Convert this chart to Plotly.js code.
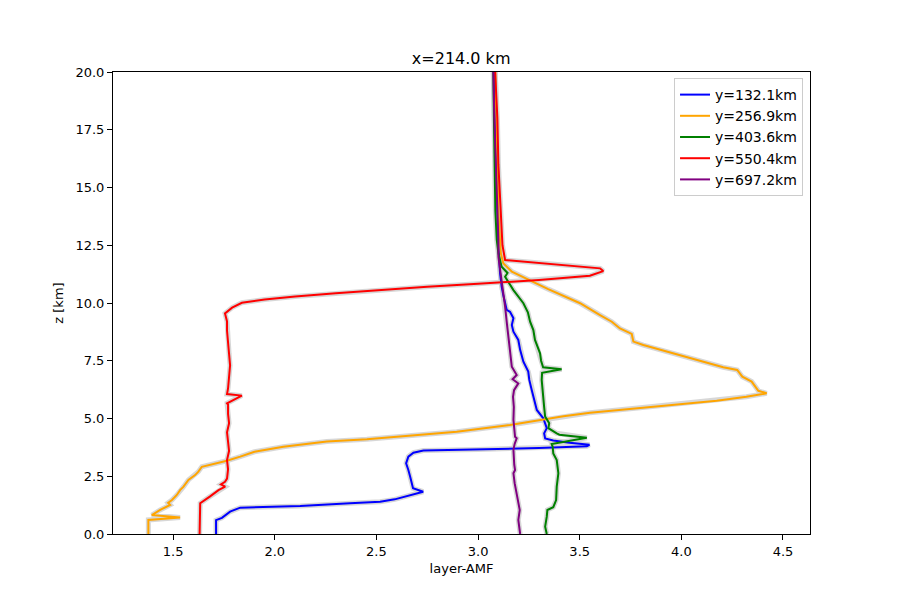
<!DOCTYPE html>
<html>
<head>
<meta charset="utf-8">
<script src="https://cdn.plot.ly/plotly-3.0.1.min.js"></script>
<style>html,body{margin:0;padding:0;background:#fff;}#chart{width:900px;height:600px;}</style>
</head>
<body>
<div id="chart"></div>
<script>
const seriesNames = ["y=132.1km", "y=256.9km", "y=403.6km", "y=550.4km", "y=697.2km"];
const seriesColors = ["#0000ff", "#ffa500", "#008000", "#ff0000", "#800080"];

const zBlue = [0, 0.6, 0.7, 0.97, 1.14, 1.21, 1.33, 1.4, 1.5, 1.59, 1.76, 1.83, 1.98, 2.2, 2.48, 2.77, 3.06, 3.35, 3.52, 3.61, 3.66, 3.72, 3.8, 3.86, 3.95, 4.05, 4.14, 4.36, 4.58, 5.01, 5.37, 5.73, 6.23, 6.67, 7.03, 7.46, 7.97, 8.4, 8.76, 9.05, 9.34, 9.62, 9.7, 10.35, 10.71, 11.3, 12.5, 14, 16, 18, 20];
const xBlue = [1.711, 1.711, 1.74, 1.78, 1.83, 2.125, 2.37, 2.518, 2.59, 2.63, 2.70, 2.73, 2.68, 2.675, 2.666, 2.657, 2.646, 2.657, 2.682, 2.731, 3.0, 3.3, 3.535, 3.548, 3.45, 3.37, 3.33, 3.325, 3.338, 3.321, 3.289, 3.28, 3.264, 3.252, 3.247, 3.223, 3.207, 3.198, 3.174, 3.166, 3.174, 3.157, 3.141, 3.124, 3.116, 3.108, 3.1, 3.095, 3.09, 3.085, 3.08];

const zOrange = [0, 0.61, 0.71, 0.82, 1.04, 1.26, 1.35, 1.47, 1.69, 1.9, 2.05, 2.34, 2.55, 2.7, 2.91, 3.06, 3.17, 3.35, 3.56, 3.78, 4.0, 4.1, 4.21, 4.43, 4.72, 4.96, 5.1, 5.25, 5.51, 5.77, 5.94, 6.09, 6.2, 6.41, 6.6, 6.81, 7.1, 7.22, 7.49, 7.89, 8.18, 8.33, 8.66, 8.9, 9.19, 9.48, 9.99, 10.6, 11.03, 11.36, 11.72, 12.15, 12.73, 14, 16, 18, 20];
const xOrange = [1.378, 1.378, 1.534, 1.395, 1.436, 1.485, 1.475, 1.494, 1.518, 1.534, 1.551, 1.575, 1.608, 1.624, 1.641, 1.715, 1.764, 1.83, 1.90, 2.042, 2.256, 2.453, 2.6, 2.895, 3.157, 3.321, 3.42, 3.551, 3.846, 4.174, 4.32, 4.42, 4.379, 4.362, 4.346, 4.30, 4.275, 4.206, 4.092, 3.928, 3.813, 3.764, 3.756, 3.698, 3.658, 3.6, 3.502, 3.345, 3.24, 3.166, 3.124, 3.112, 3.108, 3.1, 3.095, 3.09, 3.085];

const zGreen = [0, 0.32, 0.75, 1.04, 1.16, 1.47, 2.05, 2.63, 3.2, 3.49, 3.78, 3.9, 4.17, 4.3, 4.36, 4.58, 4.8, 5.08, 5.5, 5.94, 6.4, 6.67, 6.98, 7.13, 7.22, 7.5, 7.82, 8.4, 8.83, 9.19, 9.6, 9.99, 10.56, 11.14, 11.3, 11.57, 12.15, 12.73, 14, 16, 18, 20];
const xGreen = [3.338, 3.33, 3.338, 3.341, 3.37, 3.384, 3.387, 3.395, 3.387, 3.37, 3.367, 3.362, 3.535, 3.40, 3.387, 3.346, 3.35, 3.33, 3.325, 3.321, 3.315, 3.313, 3.315, 3.411, 3.32, 3.31, 3.305, 3.28, 3.272, 3.256, 3.245, 3.223, 3.174, 3.133, 3.145, 3.116, 3.1, 3.092, 3.085, 3.08, 3.078, 3.075];

const zRed = [0, 0.7, 1.33, 1.62, 1.9, 2.05, 2.15, 2.26, 2.4, 2.8, 3.2, 3.6, 4.0, 4.4, 4.8, 5.2, 5.6, 5.66, 5.99, 6.06, 6.3, 6.8, 7.3, 7.8, 8.3, 8.8, 9.2, 9.55, 9.8, 10.01, 10.15, 10.28, 10.42, 10.55, 10.7, 10.83, 11.0, 11.18, 11.38, 11.5, 11.62, 11.77, 11.86, 12.5, 14, 16, 18, 20];
const xRed = [1.63, 1.63, 1.633, 1.68, 1.723, 1.756, 1.735, 1.755, 1.765, 1.77, 1.765, 1.775, 1.77, 1.765, 1.775, 1.77, 1.77, 1.765, 1.838, 1.765, 1.77, 1.775, 1.78, 1.775, 1.77, 1.765, 1.765, 1.755, 1.79, 1.838, 1.95, 2.1, 2.3, 2.5, 2.75, 3.0, 3.3, 3.55, 3.616, 3.6, 3.45, 3.25, 3.133, 3.12, 3.11, 3.1, 3.095, 3.084];

const zPurple = [0, 0.61, 1.04, 1.33, 1.76, 2.2, 2.63, 2.77, 3.0, 3.4, 3.64, 3.9, 4.14, 4.21, 4.5, 4.94, 5.5, 5.94, 6.23, 6.52, 6.7, 6.88, 7.24, 7.8, 8.4, 9.1, 9.84, 10.85, 12.0, 12.73, 14, 16.06, 18, 20];
const xPurple = [3.207, 3.198, 3.205, 3.198, 3.19, 3.18, 3.174, 3.182, 3.178, 3.174, 3.174, 3.18, 3.19, 3.182, 3.178, 3.174, 3.176, 3.172, 3.177, 3.198, 3.17, 3.19, 3.166, 3.158, 3.149, 3.142, 3.133, 3.116, 3.1, 3.1, 3.095, 3.084, 3.08, 3.075];

const xTicks = [1.5, 2.0, 2.5, 3.0, 3.5, 4.0, 4.5];
const yTicks = [0.0, 2.5, 5.0, 7.5, 10.0, 12.5, 15.0, 17.5, 20.0];

const xs = [xBlue, xOrange, xGreen, xRed, xPurple];
const zs = [zBlue, zOrange, zGreen, zRed, zPurple];

const traces = [];
for (let i = 0; i < xs.length; i++) {
  traces.push({x: xs[i], y: zs[i], mode: 'lines', showlegend: false, hoverinfo: 'skip',
    line: {color: 'rgba(211,211,211,0.9)', width: 5}});
}
for (let i = 0; i < xs.length; i++) {
  traces.push({x: xs[i], y: zs[i], mode: 'lines', name: seriesNames[i],
    line: {color: seriesColors[i], width: 2}});
}

const axisCommon = {showline: true, mirror: true, linecolor: '#000', linewidth: 1,
  ticks: 'outside', ticklen: 5, tickwidth: 1, tickcolor: '#000', showgrid: false, zeroline: false,
  tickfont: {size: 13, color: '#000'}};

const layout = {
  width: 900, height: 600,
  margin: {l: 113, r: 90, t: 72, b: 66},
  paper_bgcolor: '#fff', plot_bgcolor: '#fff',
  font: {family: 'DejaVu Sans, sans-serif', color: '#000'},
  title: {text: 'x=214.0 km', font: {size: 16, color: '#000'}, x: 0.5124, xanchor: 'center', y: 0.903, yanchor: 'middle'},
  xaxis: Object.assign({}, axisCommon, {range: [1.204, 4.633], tickvals: xTicks, ticktext: xTicks.map(v => v.toFixed(1)),
    title: {text: 'layer-AMF', font: {size: 13, color: '#000'}, standoff: 6}}),
  yaxis: Object.assign({}, axisCommon, {range: [0, 20], tickvals: yTicks, ticktext: yTicks.map(v => v.toFixed(1)),
    title: {text: 'z [km]', font: {size: 13, color: '#000'}, standoff: 8}}),
  legend: {x: 0.99, y: 0.987, xanchor: 'right', yanchor: 'top', bgcolor: '#fff', bordercolor: '#cccccc', borderwidth: 1,
    font: {size: 14, color: '#000'}, tracegroupgap: 0},
  showlegend: true
};

Plotly.newPlot('chart', traces, layout, {displayModeBar: false, staticPlot: true});
</script>
</body>
</html>
